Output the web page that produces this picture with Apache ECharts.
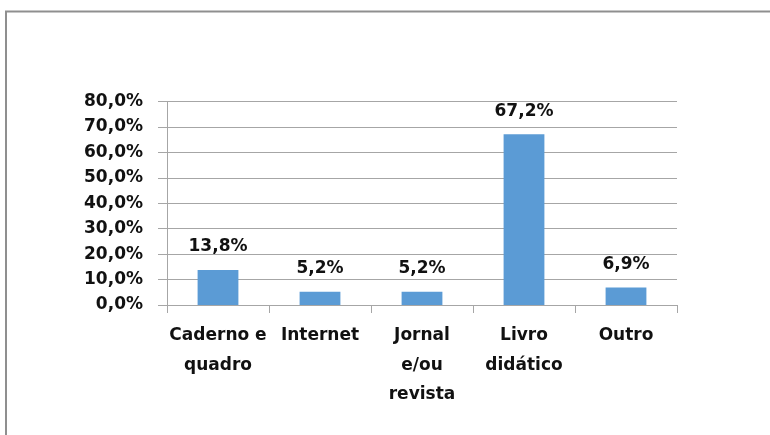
<!DOCTYPE html>
<html>
<head>
<meta charset="utf-8">
<script src="https://cdn.jsdelivr.net/npm/echarts@6/dist/echarts.min.js"></script>
<style>
  html, body { margin: 0; padding: 0; background: #fff; }
  #chart { width: 770px; height: 435px; }
</style>
</head>
<body>
<div id="chart"></div>
<script>
// Categories (with line breaks as shown under the axis)
const categories = ['Caderno e\nquadro', 'Internet', 'Jornal\ne/ou\nrevista', 'Livro\ndidático', 'Outro'];
// Share of each resource, in percent
const values = [13.8, 5.2, 5.2, 67.2, 6.9];
// Value axis ticks
const yMin = 0, yMax = 80, yStep = 10;

const fmt = v => v.toFixed(1).replace('.', ',') + '%';
const font = '"DejaVu Sans", sans-serif';

const chart = echarts.init(document.getElementById('chart'), null, { renderer: 'canvas' });
chart.setOption({
  animation: false,
  backgroundColor: '#fff',
  graphic: [
    { type: 'polyline', shape: { points: [[6, 435], [6, 11.5], [770, 11.5]] },
      style: { stroke: '#8f8f8f', lineWidth: 2, fill: null } }
  ],
  grid: { left: 167, right: 93, top: 101.6, bottom: 130, containLabel: false },
  xAxis: {
    type: 'category',
    data: categories,
    boundaryGap: true,
    axisLine: { show: true, lineStyle: { color: '#a6a6a6', width: 1 } },
    axisTick: { show: true, length: 8, alignWithLabel: false, lineStyle: { color: '#a6a6a6' } },
    axisLabel: {
      interval: 0, margin: 16, color: '#111', fontFamily: font, fontWeight: 'bold',
      fontSize: 17, lineHeight: 29.5
    }
  },
  yAxis: {
    type: 'value',
    min: yMin, max: yMax, interval: yStep,
    axisLine: { show: true, lineStyle: { color: '#a6a6a6', width: 1 } },
    axisTick: { show: true, inside: false, length: 9, lineStyle: { color: '#a6a6a6' } },
    splitLine: { show: true, lineStyle: { color: '#a6a6a6', width: 1 } },
    axisLabel: {
      margin: 24, color: '#111', fontFamily: font, fontWeight: 'bold', fontSize: 17,
      formatter: v => fmt(v)
    }
  },
  series: [{
    type: 'bar',
    data: values,
    barWidth: '40%',
    itemStyle: { color: '#5b9bd5' },
    label: {
      show: true, position: 'top', distance: 13,
      color: '#111', fontFamily: font, fontWeight: 'bold', fontSize: 17, lineHeight: 20,
      formatter: p => fmt(p.value)
    }
  }]
});
</script>
</body>
</html>
